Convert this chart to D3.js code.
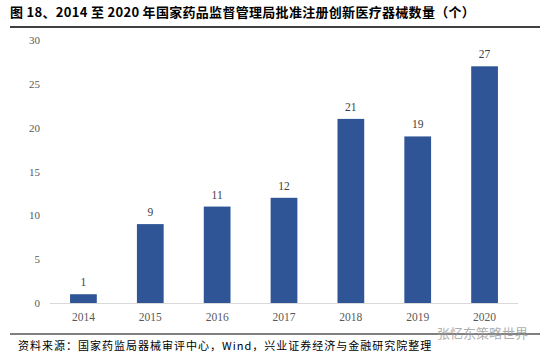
<!DOCTYPE html>
<html>
<head>
<meta charset="utf-8">
<script src="https://cdn.jsdelivr.net/npm/d3@7"></script>
<style>
  body { margin: 0; background: #fff; }
</style>
</head>
<body>
<div id="chart"></div>
<script>
// data
var years = ["2014", "2015", "2016", "2017", "2018", "2019", "2020"];
var counts = [1, 9, 11, 12, 21, 19, 27];
var yTicks = [0, 5, 10, 15, 20, 25, 30];

var titleText = "图 18、2014 至 2020 年国家药品监督管理局批准注册创新医疗器械数量（个）";
var sourceText = "资料来源：国家药监局器械审评中心，Wind，兴业证券经济与金融研究院整理";

var width = 550, height = 358;

var svg = d3.select("#chart")
    .append("svg")
    .attr("width", width)
    .attr("height", height);

// title
svg.append("text")
    .attr("x", 10)
    .attr("y", 17)
    .style("font-family", "'Noto Sans CJK SC', sans-serif")
    .style("font-size", "13px")
    .style("font-weight", "bold")
    .style("letter-spacing", "0.3px")
    .attr("fill", "#000")
    .text(titleText);

svg.append("line")
    .attr("x1", 10).attr("x2", 540)
    .attr("y1", 27).attr("y2", 27)
    .attr("stroke", "#000")
    .attr("stroke-width", 1.5);

// scales
var xScale = d3.scaleBand()
    .domain(years)
    .range([50, 518])
    .paddingInner(0.6)
    .paddingOuter(0.3);

var yScale = d3.scaleLinear()
    .domain([0, 30])
    .range([303, 40]);

// y axis labels
svg.append("g")
    .attr("transform", "translate(40,0)")
    .call(d3.axisLeft(yScale).tickValues(yTicks).tickSize(0).tickPadding(0))
    .call(g => g.select(".domain").remove())
    .selectAll("text")
    .style("font-family", "'Liberation Serif', serif")
    .style("font-size", "11px")
    .attr("fill", "#595959");

// x axis
var xAxis = svg.append("g")
    .attr("transform", "translate(0,303)")
    .call(d3.axisBottom(xScale).tickSize(0).tickPadding(10));
xAxis.select(".domain")
    .attr("stroke", "#d9d9d9")
    .attr("d", "M50,0.5H518");
xAxis.selectAll("text")
    .style("font-family", "'Liberation Serif', serif")
    .style("font-size", "11.5px")
    .attr("fill", "#595959");

// bars
svg.selectAll("rect.bar")
    .data(counts)
    .enter()
    .append("rect")
    .attr("class", "bar")
    .attr("x", (d, i) => xScale(years[i]))
    .attr("y", d => yScale(d))
    .attr("width", xScale.bandwidth())
    .attr("height", d => yScale(0) - yScale(d))
    .attr("fill", "#2F5597");

// value labels
svg.selectAll("text.val")
    .data(counts)
    .enter()
    .append("text")
    .attr("class", "val")
    .attr("x", (d, i) => xScale(years[i]) + xScale.bandwidth() / 2)
    .attr("y", d => yScale(d) - 8)
    .attr("text-anchor", "middle")
    .style("font-family", "'Liberation Serif', serif")
    .style("font-size", "11.5px")
    .attr("fill", "#404040")
    .text(d => d);

// bottom rule and source
svg.append("line")
    .attr("x1", 10).attr("x2", 540)
    .attr("y1", 334).attr("y2", 334)
    .attr("stroke", "#000")
    .attr("stroke-width", 1);

svg.append("text")
    .attr("x", 18)
    .attr("y", 350)
    .style("font-family", "'Noto Sans CJK SC', sans-serif")
    .style("font-size", "11px")
    .style("letter-spacing", "1px")
    .attr("fill", "#000")
    .text(sourceText);

// watermark
svg.append("text")
    .attr("x", 437)
    .attr("y", 338)
    .style("font-family", "'Noto Sans CJK SC', sans-serif")
    .style("font-size", "13px")
    .attr("fill", "#9a9a9a")
    .attr("opacity", 0.8)
    .text("张忆东策略世界");
</script>
</body>
</html>
